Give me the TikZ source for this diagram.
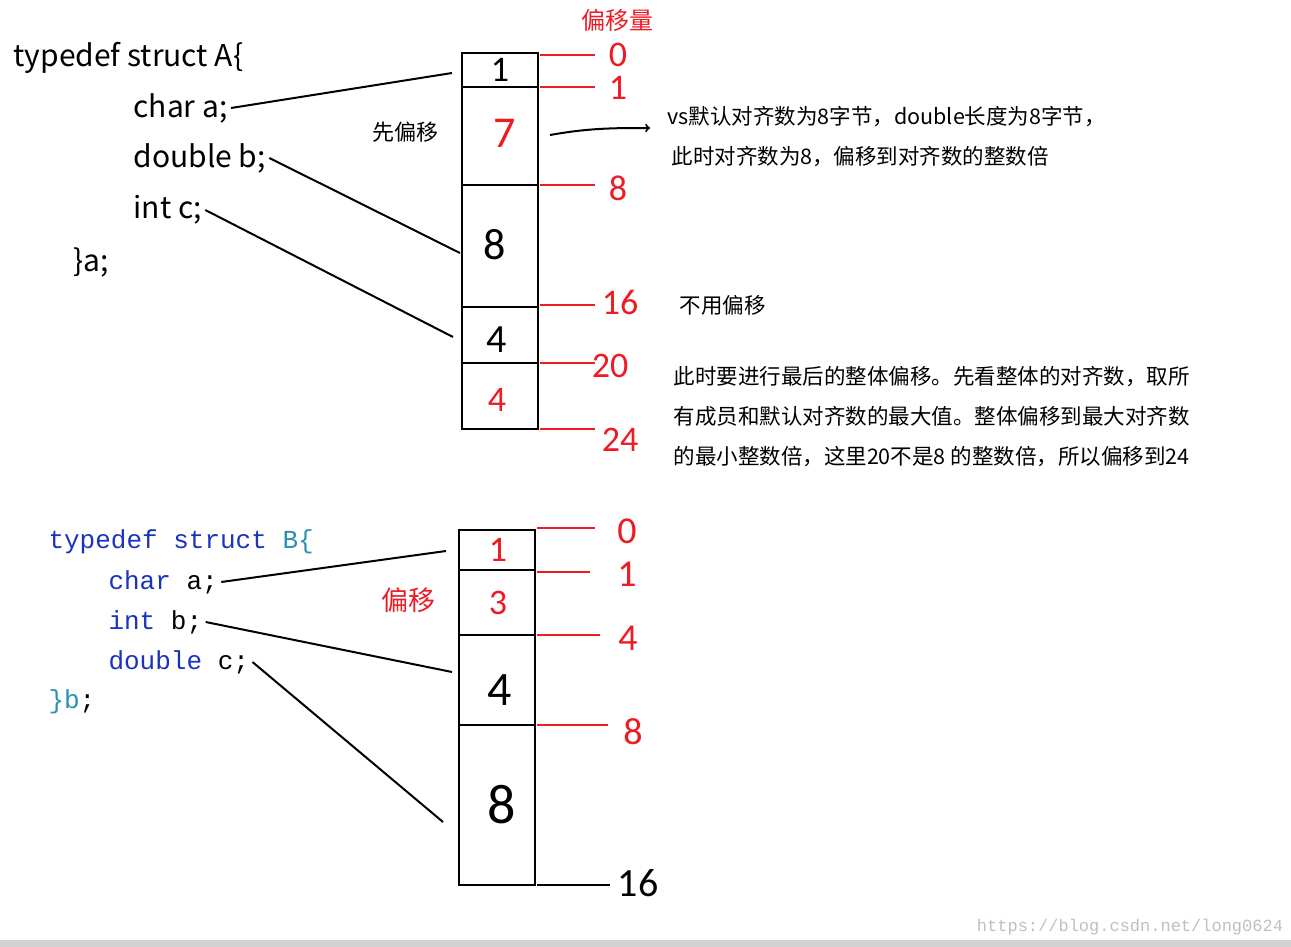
\documentclass[tikz,border=0pt]{standalone}
\usepackage{fontspec}
\setmainfont{Noto Sans CJK SC}
\setmonofont{Liberation Mono}
\newfontfamily\hand{Carlito}
\definecolor{offred}{rgb}{0.93,0.11,0.14}
\definecolor{kwblue}{rgb}{0.10,0.20,0.75}
\definecolor{tagteal}{rgb}{0.17,0.57,0.69}
\tikzset{cell/.style={draw, line width=2.6pt}}
\tikzset{tick/.style={line width=2pt, color=offred}}
\tikzset{link/.style={line width=2pt}}
\tikzset{num/.style={font=\hand\fontsize{36}{36}\selectfont, color=offred}}
\tikzset{code/.style={anchor=west, font=\fontsize{30}{32}\selectfont}}
\tikzset{mono/.style={anchor=west, font=\ttfamily\fontsize{26}{30}\selectfont}}
\tikzset{note/.style={anchor=west, font=\fontsize{21.5}{24}\selectfont}}
\begin{document}
\begin{tikzpicture}[x=1pt, y=-1pt]
        \useasboundingbox (0,0) rectangle (1291,947);
        \fill[gray!35] (0,940) rectangle (1291,947);

        % struct A
        \node[code] (Ahead) at (10,58) {typedef struct A\{};
        \node[code] (Aa) at (130,108) {char a;};
        \node[code] (Ab) at (130,158) {double b;};
        \node[code] (Ac) at (130,210) {int c;};
        \node[code] (Aend) at (70,262) {\}a;};

        \draw[cell] (462,53) rectangle (538,429);
        \foreach \y in {87,185,307,363} \draw[cell] (462,\y) -- (538,\y);
        \node[num, color=black] (Ac1) at (500,70) {1};
        \node[num, font=\hand\fontsize{44}{44}\selectfont] (Ac2) at (505,133) {7};
        \node[num, color=black, font=\hand\fontsize{44}{44}\selectfont] (Ac3) at (495,245) {8};
        \node[num, color=black, font=\hand\fontsize{40}{40}\selectfont] (Ac4) at (497,340) {4};
        \node[num] (Ac5) at (497,400) {4};

        \coordinate (Pa) at (452,73);
        \coordinate (Pb) at (460,253);
        \coordinate (Pc) at (453,337);
        \draw[link] (Aa.east) -- (Pa);
        \draw[link] (Ab.east) -- (Pb);
        \draw[link] (Ac.east) -- (Pc);

        \node[font=\fontsize{24}{24}\selectfont, color=offred] (Atitle) at (617,20) {偏移量};
        \foreach \y/\t/\lx/\ly in {55/0/618/55, 87/1/618/88, 185/8/618/188, 305/16/620/302, 363/20/610/366, 429/24/620/440}{
            \draw[tick] (540,\y) -- (595,\y);
            \node[num] at (\lx,\ly) {\t};
        }

        \node[font=\fontsize{22}{24}\selectfont] (Afirst) at (405,132) {先偏移};
        \coordinate (Arr1) at (550,135);
        \coordinate (Arr2) at (650,128);
        \draw[link, ->] (Arr1) to[out=10, in=180] (Arr2);
        \node[note] (An1) at (664,117) {vs默认对齐数为8字节，double长度为8字节，};
        \node[note] (An2) at (668,157) {此时对齐数为8，偏移到对齐数的整数倍};
        \node[note] (An3) at (676,305) {不用偏移};
        \node[note, align=left, font=\fontsize{21.5}{40}\selectfont] (An4) at (670,417)
        {此时要进行最后的整体偏移。先看整体的对齐数，取所\\有成员和默认对齐数的最大值。整体偏移到最大对齐数\\的最小整数倍，这里20不是8 的整数倍，所以偏移到24};

        % struct B
        \node[mono] (Bhead) at (45,542) {\textcolor{kwblue}{typedef struct} \textcolor{tagteal}{B\{}};
        \node[mono] (Ba) at (105,582) {\textcolor{kwblue}{char} a;};
        \node[mono] (Bb) at (105,622) {\textcolor{kwblue}{int} b;};
        \node[mono] (Bc) at (105,662) {\textcolor{kwblue}{double} c;};
        \node[mono] (Bend) at (45,702) {\textcolor{tagteal}{\}b};};

        \draw[cell] (459,530) rectangle (535,885);
        \foreach \y in {570,635,725} \draw[cell] (459,\y) -- (535,\y);
        \node[num] (Bc1) at (498,550) {1};
        \node[num] (Bc2) at (498,603) {3};
        \node[num, color=black, font=\hand\fontsize{48}{48}\selectfont] (Bc3) at (500,690) {4};
        \node[num, color=black, font=\hand\fontsize{56}{56}\selectfont] (Bc4) at (502,805) {8};

        \coordinate (Qa) at (446,551);
        \coordinate (Qb) at (452,672);
        \coordinate (Qc) at (443,822);
        \draw[link] (Ba.east) -- (Qa);
        \draw[link] (Bb.east) -- (Qb);
        \draw[link] (Bc.east) -- (Qc);

        \node[font=\fontsize{27}{27}\selectfont, color=offred] (Bshift) at (408,600) {偏移};
        \foreach \y/\e/\t/\lx/\ly in {528/595/0/627/531, 572/590/1/627/574, 635/600/4/628/638, 725/608/8/633/732}{
            \draw[tick] (537,\y) -- (\e,\y);
            \node[num, font=\hand\fontsize{38}{38}\selectfont, inner sep=0pt] at (\lx,\ly) {\t};
        }
        \draw[link] (537,885) -- (610,885);
        \node[num, color=black, font=\hand\fontsize{40}{40}\selectfont] (B16) at (638,883) {16};

        \node[font=\ttfamily\fontsize{17}{17}\selectfont, color=gray!50] (Mark) at (1130,927) {https://blog.csdn.net/long0624};
\end{tikzpicture}
\end{document}
